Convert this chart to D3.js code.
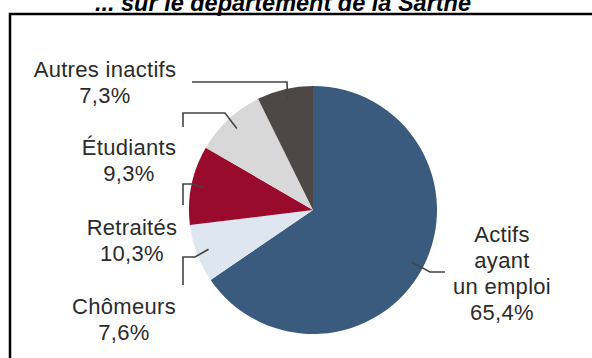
<!DOCTYPE html>
<html>
<head>
<meta charset="utf-8">
<script src="https://cdn.jsdelivr.net/npm/d3@7"></script>
<style>
  body { margin: 0; background: #ffffff; }
  svg { display: block; }
  .title { font-family: "Liberation Sans", Arial, sans-serif; font-weight: bold; font-style: italic; font-size: 23.5px; fill: #000; }
  .label { font-family: "Liberation Sans", Arial, sans-serif; font-size: 22px; letter-spacing: 0.3px; fill: #2b2b2b; }
</style>
</head>
<body>
<svg id="chart" width="592" height="358"></svg>
<script>
// chart data
const categories = ["Actifs ayant un emploi", "Chômeurs", "Retraités", "Étudiants", "Autres inactifs"];
const shares = [65.4, 7.6, 10.3, 9.3, 7.3];
const shareLabels = ["65,4%", "7,6%", "10,3%", "9,3%", "7,3%"];
const labelLines = [["Actifs", "ayant", "un emploi"], ["Chômeurs"], ["Retraités"], ["Étudiants"], ["Autres inactifs"]];
const colors = ["#3a5a7e", "#dee6f0", "#9a0a2c", "#d8d8d8", "#4d4846"];

const width = 592;
const height = 358;
const cx = 313, cy = 210, radius = 124;

const svg = d3.select("#chart");

// title (top cut off in the original)
svg.append("text")
    .attr("class", "title")
    .attr("x", 283)
    .attr("y", 11)
    .attr("text-anchor", "middle")
    .text("... sur le département de la Sarthe");

// frame
svg.append("rect")
    .attr("x", 10)
    .attr("y", 14)
    .attr("width", 620)
    .attr("height", 400)
    .attr("fill", "none")
    .attr("stroke", "#000")
    .attr("stroke-width", 2.5);

const dataset = categories.map((c, i) => ({
    name: c, value: shares[i], pct: shareLabels[i], lines: labelLines[i], color: colors[i]
}));

const pie = d3.pie().sort(null).value(d => d.value);
const arcs = pie(dataset);

const arc = d3.arc().innerRadius(0).outerRadius(radius);
const leaderArc = d3.arc().innerRadius(radius * 0.9).outerRadius(radius * 0.9);

const g = svg.append("g").attr("transform", "translate(" + cx + "," + cy + ")");

g.selectAll("path")
    .data(arcs)
    .join("path")
    .attr("d", arc)
    .attr("fill", d => d.data.color);

// label layout: text block centre / first baseline, leader elbows (absolute page coords)
const layout = [
    { x: 502, y: 242, elbow: [[430, 272], [445, 272]] },
    { x: 124, y: 314, elbow: [[195, 257], [183, 257], [183, 285]] },
    { x: 132, y: 235, elbow: [[193, 184], [183, 184], [183, 205]] },
    { x: 129, y: 155, elbow: [[225, 113], [183, 113], [183, 127]] },
    { x: 105, y: 77, elbow: [[287, 82], [192, 82]] }
];
const lineHeight = 26;

arcs.forEach((a, i) => {
    const c = leaderArc.centroid(a);
    const pts = [[cx + c[0], cy + c[1]]].concat(layout[i].elbow);
    svg.append("path")
        .attr("d", d3.line()(pts))
        .attr("fill", "none")
        .attr("stroke", "#444")
        .attr("stroke-width", 1.6);

    const t = svg.append("text")
        .attr("class", "label")
        .attr("text-anchor", "middle");
    const rows = a.data.lines.concat([a.data.pct]);
    rows.forEach((r, j) => {
        t.append("tspan")
            .attr("x", layout[i].x)
            .attr("y", layout[i].y + j * lineHeight)
            .text(r);
    });
});
</script>
</body>
</html>
